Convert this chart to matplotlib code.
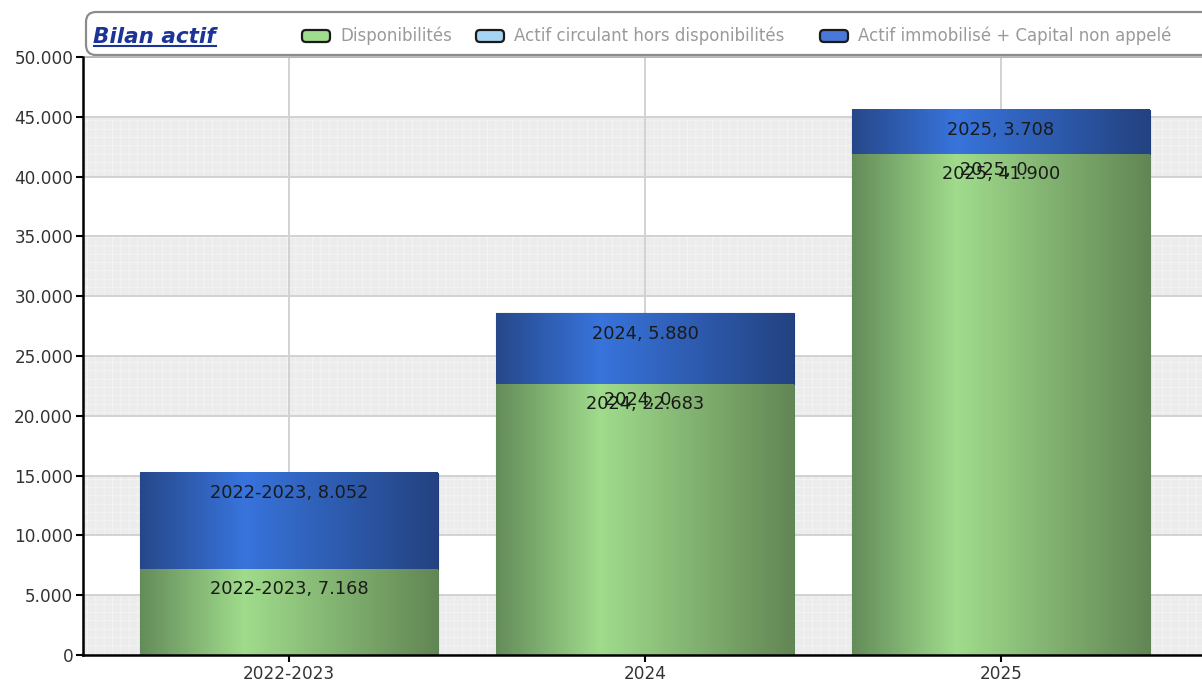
import numpy as np
import matplotlib
matplotlib.use("Agg")
import matplotlib.pyplot as plt
from matplotlib.patches import FancyBboxPatch
from matplotlib.transforms import IdentityTransform
from matplotlib.lines import Line2D
from matplotlib.ticker import FuncFormatter

plt.rcParams['font.family'] = ['DejaVu Sans']
plt.rcParams['hatch.linewidth'] = 0.5

# ---------------- data ----------------
categories = ["2022-2023", "2024", "2025"]
disponibilites = [7168, 22683, 41900]
actif_circulant = [None, 0, 0]
actif_immobilise = [8052, 5880, 3708]
series_names = ["Disponibilités", "Actif circulant hors disponibilités",
                "Actif immobilisé + Capital non appelé"]
title = "Bilan actif"
y_ticks = list(range(0, 50001, 5000))

W, H = 1202, 686
fig = plt.figure(figsize=(W / 100, H / 100), dpi=100)
ax = fig.add_axes([83 / W, 1 - 655 / H, 1 - 83 / W, (655 - 57) / H])

x = np.arange(len(categories))
bw = 0.837

def fmt(v):
    return f"{int(v):,}".replace(",", ".")

def gradient(edge_l, light, edge_r, n=256, peak=0.35):
    edge_l, light, edge_r = (np.array(c) / 255 for c in (edge_l, light, edge_r))
    t = np.linspace(0, 1, n)
    out = np.zeros((1, n, 3))
    for i, ti in enumerate(t):
        if ti < peak:
            a = ti / peak
            out[0, i] = edge_l * (1 - a) + light * a
        else:
            a = (ti - peak) / (1 - peak)
            out[0, i] = light * (1 - a) + edge_r * a
    return out

green_grad = gradient((100, 140, 90), (160, 220, 140), (98, 134, 84))
blue_grad = gradient((38, 72, 138), (56, 116, 220), (35, 66, 128))

# background bands
for k in range(0, 50000, 10000):
    ax.axhspan(k, k + 5000, facecolor="#ececec", edgecolor="#f6f6f6",
               hatch="++", lw=0, zorder=0)

disp = np.array(disponibilites, dtype=float)
immo = np.array(actif_immobilise, dtype=float)
b1 = ax.bar(x, disp, width=bw, color="#8cc47c", edgecolor="#5d8455", lw=0.8, zorder=2)
b3 = ax.bar(x, immo, bottom=disp, width=bw, color="#3466c0", edgecolor="#203c80", lw=0.8, zorder=2)

for bars, grad in ((b1, green_grad), (b3, blue_grad)):
    for r in bars:
        x0, y0 = r.get_x(), r.get_y()
        ax.imshow(grad, extent=(x0, x0 + r.get_width(), y0, y0 + r.get_height()),
                  aspect="auto", zorder=2.5, interpolation="bilinear")

# labels
lab_kw = dict(textcoords="offset points", ha="center", va="center",
              fontsize=12.8, color="#1a1a1a", zorder=5)
for i, c in enumerate(categories):
    ax.annotate(f"{c}, {fmt(disp[i])}", xy=(x[i], disp[i]), xytext=(0, -14.5), **lab_kw)
    if actif_circulant[i] is not None:
        ax.annotate(f"{c}, {fmt(actif_circulant[i])}", xy=(x[i], disp[i] + actif_circulant[i]),
                    xytext=(-5, -11.5), **lab_kw)
    ax.annotate(f"{c}, {fmt(immo[i])}", xy=(x[i], disp[i] + immo[i]), xytext=(0, -14.5), **lab_kw)

ax.set_xlim(-206 / 356, (W - 289) / 356)
ax.set_ylim(0, 50000)
ax.set_xticks(x)
ax.set_xticklabels(categories)
ax.set_yticks(y_ticks)
ax.yaxis.set_major_formatter(FuncFormatter(lambda v, p: fmt(v)))
ax.tick_params(axis="both", direction="out", length=5, width=1.5, color="black",
               labelsize=12.2, labelcolor="#333333", pad=2)
ax.grid(True, color="#d2d2d2", lw=1.4)
ax.set_axisbelow(True)
for s in ("top", "right"):
    ax.spines[s].set_visible(False)
for s in ("left", "bottom"):
    ax.spines[s].set_linewidth(1.8)
    ax.spines[s].set_color("black")
ax.set_facecolor("white")

# title box
box = FancyBboxPatch((86, H - 55), 1140, 43, boxstyle="round,pad=0,rounding_size=10",
                     transform=IdentityTransform(), facecolor="white",
                     edgecolor="#8c8c8c", lw=1.6, zorder=10)
fig.add_artist(box)
fig.add_artist(Line2D([86, W], [H - 57, H - 57], transform=IdentityTransform(),
                      color="#b0b0b0", lw=1.2, zorder=11))

t = fig.text(93 / W, 1 - 37 / H, title, fontsize=15.5, fontweight="bold", fontstyle="italic",
             color="#1c3496", ha="left", va="center", zorder=12)
fig.canvas.draw()
bb = t.get_window_extent()
fig.add_artist(Line2D([bb.x0 + 1, bb.x1], [bb.y0 + 1, bb.y0 + 1], transform=IdentityTransform(),
                      color="#1c3496", lw=1.5, zorder=12))

# legend
leg_colors = [("#9fdc8e", "#3d6a35"), ("#a8d4f4", "#2a4a70"), ("#4a78d8", "#1a2e60")]
leg_text_x = [340, 514, 858]
for name, (fc, ec), tx in zip(series_names, leg_colors, leg_text_x):
    mk = FancyBboxPatch((tx - 38, H - 42), 28, 12, boxstyle="round,pad=0,rounding_size=4",
                        transform=IdentityTransform(), facecolor=fc, edgecolor="#1a1a1a",
                        lw=1.6, zorder=12)
    fig.add_artist(mk)
    fig.text(tx / W, 1 - 36 / H, name, fontsize=12.0, color="#9a9a9a",
             ha="left", va="center", zorder=12)

fig.savefig("out.png", dpi=100)
